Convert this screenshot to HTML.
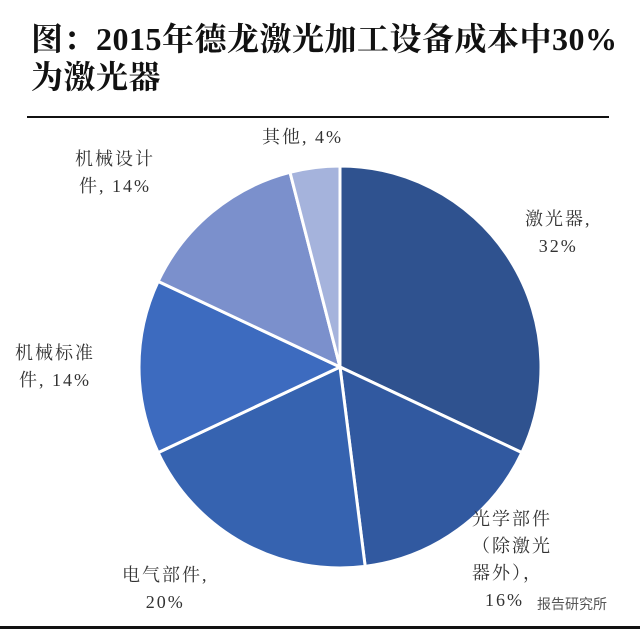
<!DOCTYPE html>
<html><head><meta charset="utf-8"><style>
body{margin:0;width:640px;height:629px;background:#fff;overflow:hidden;position:relative;font-family:"Liberation Serif","Noto Serif CJK SC",serif}
.t{position:absolute;left:31px;font-weight:bold;font-size:32px;color:#111;line-height:38px;white-space:nowrap;letter-spacing:0.5px}
.l{position:absolute;font-size:18px;color:#333;line-height:27px;text-align:center;white-space:nowrap;letter-spacing:2px}
</style></head><body>
<div class="t" style="top:20px">图：2015年德龙激光加工设备成本中30%<br>为激光器</div>
<div style="position:absolute;left:27px;top:116px;width:582px;height:2px;background:#111"></div>
<div style="position:absolute;left:0;top:626px;width:640px;height:3px;background:#111"></div>
<svg id="pie" width="640" height="629" style="position:absolute;left:0;top:0"></svg>
<div class="l" style="left:262px;top:124px">其他, 4%</div>
<div class="l" style="left:75px;top:146px">机械设计<br>件, 14%</div>
<div class="l" style="left:525px;top:206px">激光器,<br>32%</div>
<div class="l" style="left:15px;top:340px">机械标准<br>件, 14%</div>
<div class="l" style="left:122px;top:562px">电气部件,<br>20%</div>
<div class="l" style="left:472px;top:506px;text-align:left">光学部件<br>（除激光<br>器外），<br>&nbsp;&nbsp;16%</div>
<div style="position:absolute;left:537px;top:594px;font-size:14px;color:#555;font-family:'Liberation Sans','Noto Sans CJK SC',sans-serif">报告研究所</div>
<script>
const categories=["激光器","光学部件","电气部件","机械标准件","机械设计件","其他"];
const values=[32,16,20,14,14,4];
const colors=["#2f528f","#3159a0","#3663b0","#3d6bbf","#7b90cc","#a5b3dc"];
const svg=document.getElementById('pie');
const cx=340,cy=367,r=201;
const total=values.reduce((a,b)=>a+b,0);
let a0=-Math.PI/2;
values.forEach((v,i)=>{
  const a1=a0+v/total*2*Math.PI;
  const x0=cx+r*Math.cos(a0),y0=cy+r*Math.sin(a0),x1=cx+r*Math.cos(a1),y1=cy+r*Math.sin(a1);
  const large=(a1-a0)>Math.PI?1:0;
  const p=document.createElementNS('http://www.w3.org/2000/svg','path');
  p.setAttribute('d',`M${cx},${cy}L${x0},${y0}A${r},${r} 0 ${large} 1 ${x1},${y1}Z`);
  p.setAttribute('fill',colors[i]);p.setAttribute('stroke','#fff');p.setAttribute('stroke-width','3');
  
  
  svg.appendChild(p);
  a0=a1;
});
</script>
</body></html>
